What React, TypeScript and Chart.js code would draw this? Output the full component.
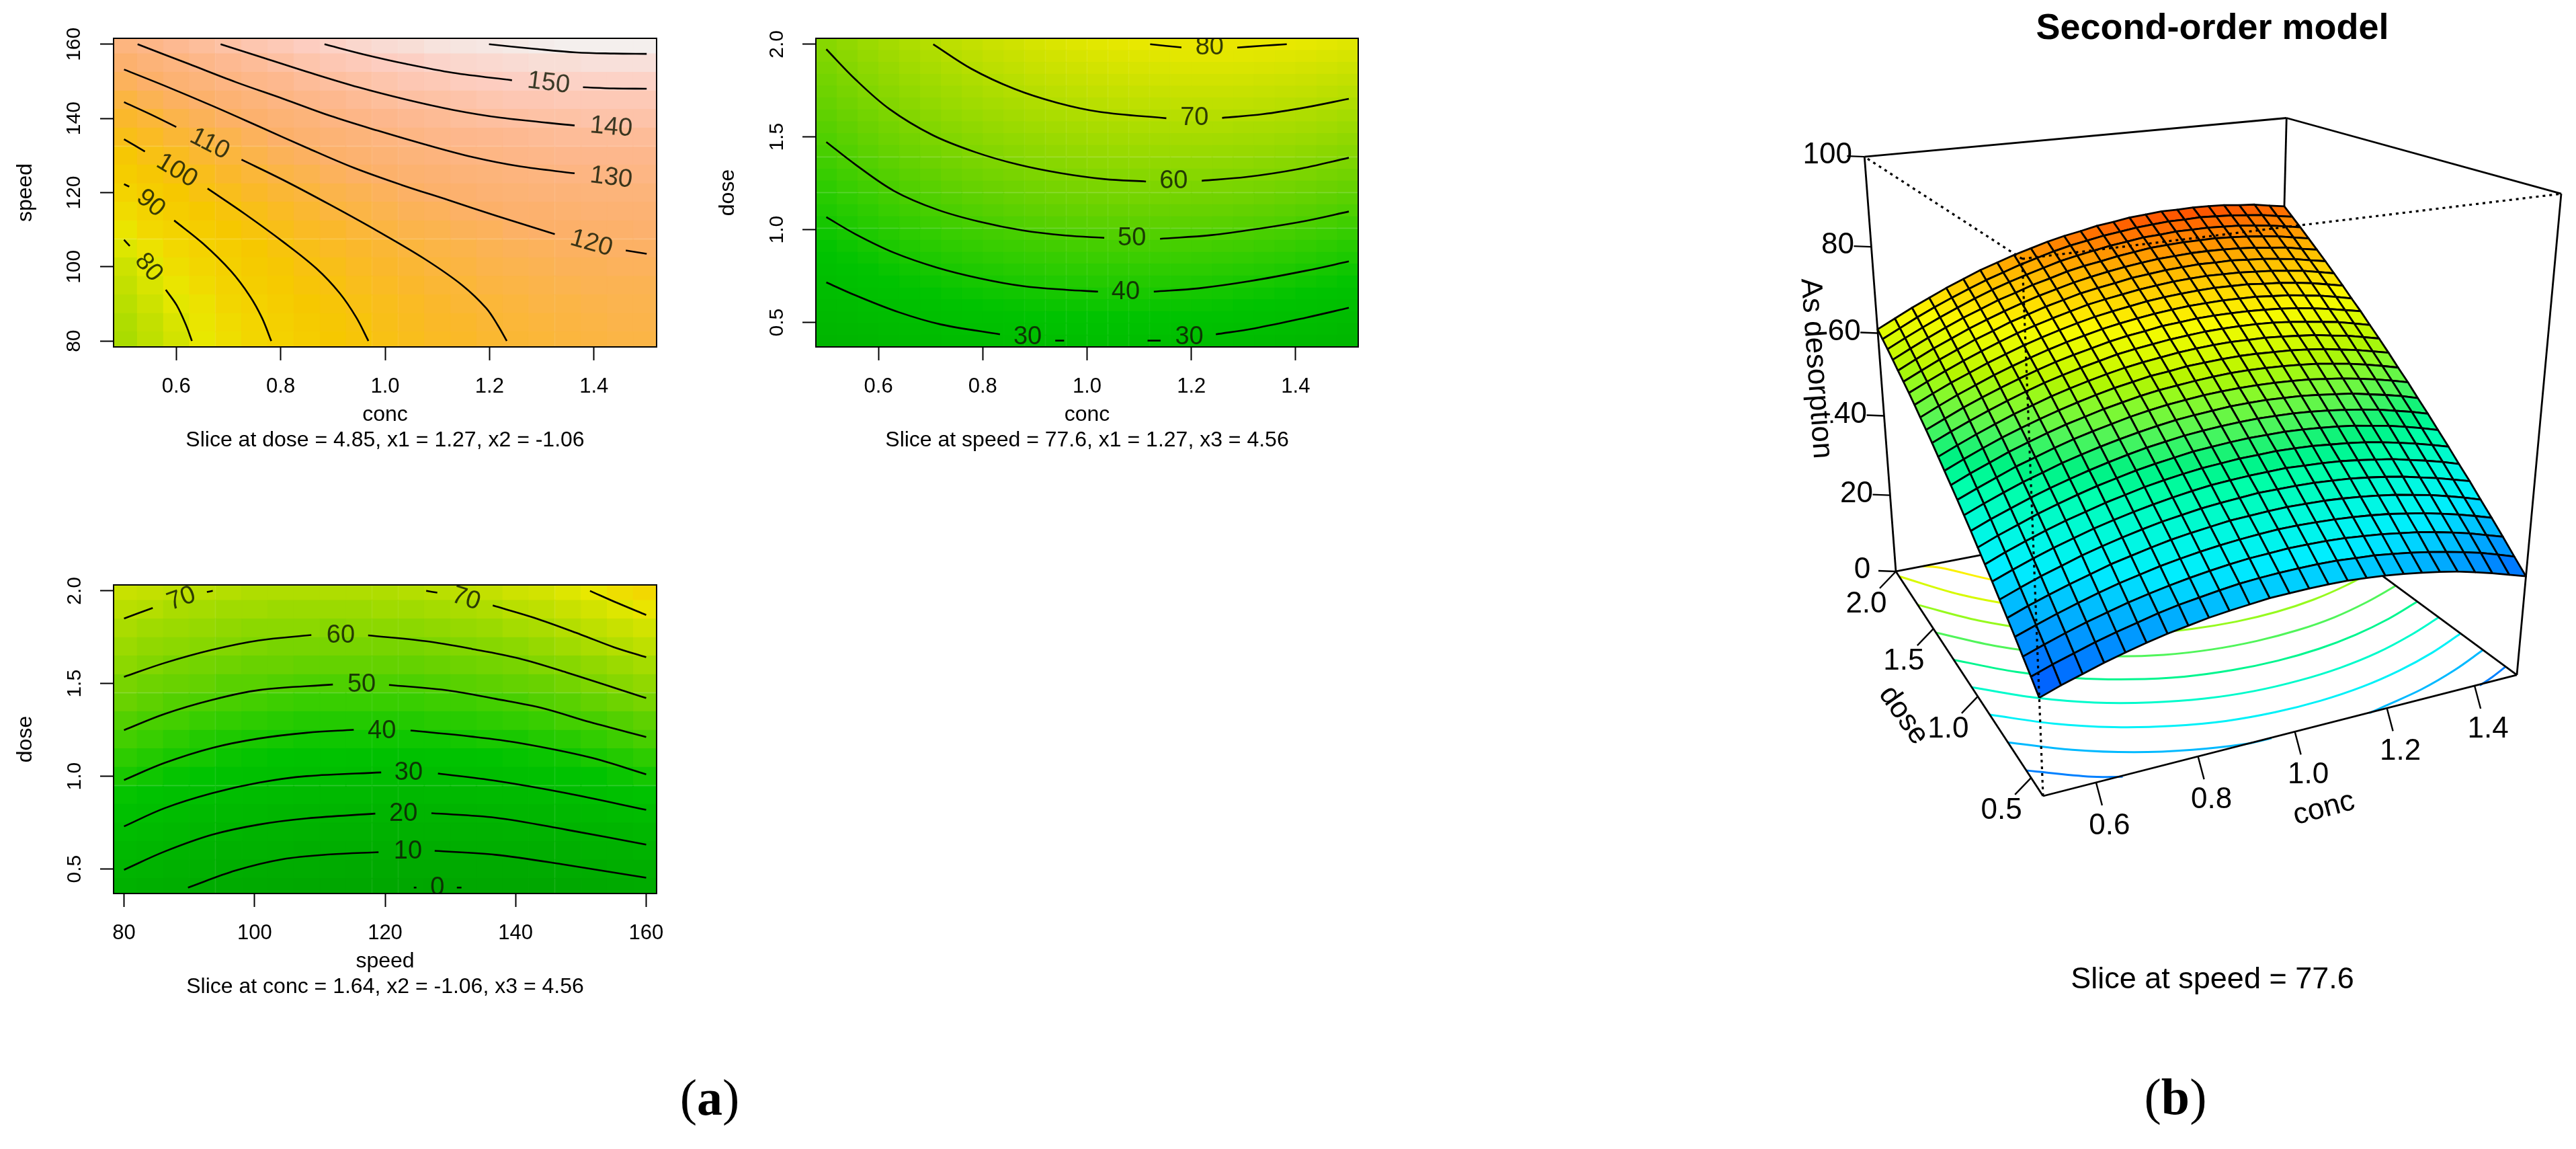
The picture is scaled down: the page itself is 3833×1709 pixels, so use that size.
import React, { useEffect, useRef } from 'react';
import { Chart, registerables } from 'chart.js';
Chart.register(...registerables);
Chart.defaults.font.family = '"Liberation Sans", Helvetica, Arial, sans-serif';
Chart.defaults.color = '#000';

// ---------- grid axes ----------
const concGrid26 = [0.5,0.54,0.58,0.62,0.66,0.7,0.74,0.78,0.82,0.86,0.9,0.94,0.98,1.02,1.06,1.1,1.14,1.18,1.22,1.26,1.3,1.34,1.38,1.42,1.46,1.5];
const doseGrid26 = [0.4,0.464,0.528,0.592,0.656,0.72,0.784,0.848,0.912,0.976,1.04,1.104,1.168,1.232,1.296,1.36,1.424,1.488,1.552,1.616,1.68,1.744,1.808,1.872,1.936,2.0];
const concGrid21 = [0.5,0.55,0.6,0.65,0.7,0.75,0.8,0.85,0.9,0.95,1.0,1.05,1.1,1.15,1.2,1.25,1.3,1.35,1.4,1.45,1.5];
const speedGrid17 = [80,85,90,95,100,105,110,115,120,125,130,135,140,145,150,155,160];
const speedGrid21 = [80,84,88,92,96,100,104,108,112,116,120,124,128,132,136,140,144,148,152,156,160];
const doseGrid17 = [0.4,0.5,0.6,0.7,0.8,0.9,1.0,1.1,1.2,1.3,1.4,1.5,1.6,1.7,1.8,1.9,2.0];

// ---------- As desorption, conc x dose, speed = 77.6 (rows: dose, columns: conc) ----------
const zConcDose = [
[20.5,22.0,23.3,24.6,25.7,26.7,27.6,28.3,29.0,29.5,29.9,30.3,30.4,30.5,30.5,30.4,30.1,29.7,29.2,28.6,27.9,27.1,26.1,25.0,23.8,22.6],
[22.6,24.1,25.4,26.7,27.8,28.8,29.8,30.6,31.2,31.8,32.3,32.6,32.8,32.9,32.9,32.8,32.5,32.2,31.7,31.1,30.4,29.6,28.7,27.7,26.5,25.2],
[24.6,26.1,27.5,28.8,29.9,31.0,31.9,32.7,33.4,34.0,34.5,34.9,35.1,35.3,35.3,35.2,35.0,34.6,34.2,33.6,33.0,32.2,31.3,30.3,29.1,27.9],
[26.6,28.1,29.5,30.8,32.0,33.1,34.0,34.9,35.6,36.2,36.7,37.1,37.4,37.6,37.6,37.5,37.3,37.0,36.6,36.1,35.4,34.7,33.8,32.8,31.7,30.5],
[28.5,30.1,31.5,32.8,34.0,35.2,36.1,37.0,37.8,38.4,38.9,39.4,39.6,39.8,39.9,39.8,39.7,39.4,39.0,38.5,37.9,37.1,36.3,35.3,34.2,33.0],
[30.4,32.0,33.5,34.8,36.1,37.2,38.2,39.1,39.9,40.5,41.1,41.5,41.8,42.1,42.1,42.1,42.0,41.7,41.4,40.9,40.3,39.6,38.7,37.8,36.7,35.6],
[32.3,33.9,35.4,36.8,38.0,39.2,40.2,41.1,41.9,42.6,43.2,43.7,44.0,44.2,44.3,44.4,44.2,44.0,43.7,43.2,42.6,42.0,41.1,40.2,39.2,38.0],
[34.1,35.8,37.3,38.7,40.0,41.1,42.2,43.1,44.0,44.7,45.3,45.8,46.1,46.4,46.5,46.6,46.5,46.3,45.9,45.5,45.0,44.3,43.5,42.6,41.6,40.5],
[35.9,37.6,39.1,40.6,41.9,43.1,44.2,45.1,46.0,46.7,47.3,47.9,48.2,48.5,48.7,48.7,48.7,48.5,48.2,47.8,47.3,46.6,45.9,45.0,44.0,42.9],
[37.7,39.4,40.9,42.4,43.7,44.9,46.0,47.0,47.9,48.7,49.3,49.9,50.3,50.6,50.8,50.9,50.8,50.7,50.4,50.0,49.5,48.9,48.2,47.3,46.4,45.3],
[39.4,41.1,42.7,44.2,45.5,46.8,47.9,48.9,49.8,50.6,51.3,51.9,52.3,52.6,52.9,53.0,53.0,52.8,52.6,52.2,51.7,51.2,50.4,49.6,48.7,47.6],
[41.1,42.8,44.4,46.0,47.3,48.6,49.8,50.8,51.7,52.6,53.3,53.9,54.3,54.7,54.9,55.0,55.0,54.9,54.7,54.4,53.9,53.4,52.7,51.9,51.0,50.0],
[42.7,44.5,46.1,47.7,49.1,50.4,51.6,52.6,53.6,54.4,55.2,55.8,56.2,56.6,56.9,57.1,57.1,57.0,56.8,56.5,56.1,55.5,54.9,54.1,53.2,52.2],
[44.3,46.1,47.8,49.4,50.8,52.1,53.3,54.4,55.4,56.3,57.0,57.7,58.1,58.6,58.8,59.0,59.1,59.0,58.8,58.6,58.2,57.7,57.0,56.3,55.4,54.5],
[45.9,47.7,49.4,51.0,52.5,53.8,55.1,56.2,57.2,58.1,58.9,59.5,60.0,60.5,60.8,61.0,61.1,61.0,60.9,60.6,60.2,59.8,59.1,58.5,57.6,56.7],
[47.5,49.3,51.0,52.6,54.1,55.5,56.8,57.9,58.9,59.8,60.7,61.3,61.8,62.3,62.6,62.9,63.0,63.0,62.9,62.7,62.3,61.8,61.2,60.6,59.7,58.8],
[49.0,50.8,52.6,54.2,55.7,57.1,58.4,59.6,60.6,61.5,62.4,63.1,63.6,64.2,64.5,64.8,64.9,64.9,64.8,64.6,64.3,63.9,63.3,62.6,61.8,61.0],
[50.4,52.3,54.1,55.7,57.3,58.7,60.0,61.2,62.3,63.2,64.1,64.8,65.4,65.9,66.3,66.6,66.7,66.8,66.7,66.6,66.2,65.9,65.3,64.7,63.9,63.0],
[51.9,53.8,55.6,57.2,58.8,60.2,61.6,62.8,63.9,64.9,65.8,66.5,67.1,67.7,68.1,68.4,68.6,68.7,68.6,68.5,68.1,67.8,67.3,66.7,65.9,65.1],
[53.3,55.2,57.0,58.7,60.3,61.8,63.2,64.4,65.5,66.5,67.5,68.2,68.8,69.4,69.8,70.2,70.4,70.5,70.4,70.3,70.0,69.7,69.2,68.7,67.9,67.1],
[54.6,56.5,58.4,60.1,61.8,63.2,64.7,65.9,67.1,68.1,69.1,69.8,70.4,71.1,71.5,71.9,72.1,72.3,72.2,72.2,71.9,71.6,71.1,70.6,69.8,69.1],
[55.9,57.9,59.8,61.5,63.2,64.7,66.1,67.4,68.6,69.6,70.6,71.4,72.1,72.7,73.2,73.6,73.8,74.0,74.0,73.9,73.7,73.4,72.9,72.5,71.7,71.0],
[57.2,59.2,61.1,62.9,64.6,66.1,67.6,68.8,70.1,71.1,72.2,73.0,73.6,74.3,74.8,75.3,75.5,75.7,75.7,75.7,75.5,75.2,74.8,74.3,73.6,72.9],
[58.5,60.5,62.4,64.2,65.9,67.5,69.0,70.3,71.5,72.6,73.7,74.5,75.2,75.9,76.4,76.9,77.1,77.4,77.4,77.4,77.2,77.0,76.6,76.1,75.5,74.8],
[59.7,61.7,63.7,65.5,67.2,68.8,70.3,71.6,72.9,74.0,75.1,76.0,76.7,77.4,77.9,78.4,78.7,79.0,79.0,79.1,78.9,78.7,78.3,77.9,77.2,76.6],
[60.9,62.9,64.9,66.7,68.5,70.1,71.7,73.0,74.3,75.4,76.5,77.4,78.1,78.9,79.4,80.0,80.3,80.6,80.6,80.7,80.6,80.4,80.0,79.7,79.0,78.4],
];

// ---------- conc x speed, dose = 4.85 (rows: speed, columns: conc) ----------
const zConcSpeed = [
[68,72,76,80,83,86,89,92,95,97,100,102,104,105,107,108,109,110,111,112,112],
[69,73,77,81,84,87,90,93,96,98,101,103,105,106,108,109,110,111,112,113,113],
[71,75,79,82,86,89,92,95,97,100,102,104,106,108,109,110,112,112,113,114,114],
[73,77,81,84,88,91,94,97,99,102,104,106,108,109,111,112,113,114,115,115,115],
[75,79,83,86,90,93,96,99,101,104,106,108,110,111,113,114,115,116,116,117,117],
[78,82,85,89,92,95,98,101,104,106,108,110,112,113,115,116,117,118,118,119,119],
[81,85,88,92,95,98,101,104,106,109,111,113,114,116,117,119,120,120,121,121,122],
[84,88,92,95,98,101,104,107,110,112,114,116,117,119,120,122,122,123,124,124,124],
[88,92,95,99,102,105,108,110,113,115,117,119,121,122,124,125,126,126,127,127,127],
[92,96,99,102,106,109,112,114,117,119,121,123,124,126,127,128,129,130,130,131,131],
[96,100,103,107,110,113,116,118,121,123,125,127,128,130,131,132,133,134,134,134,134],
[101,104,108,111,114,117,120,123,125,127,129,131,133,134,135,136,137,138,138,138,138],
[106,109,113,116,119,122,125,127,130,132,134,136,137,139,140,141,142,142,143,143,143],
[111,115,118,121,124,127,130,133,135,137,139,141,142,143,145,146,146,147,147,147,147],
[117,120,124,127,130,133,135,138,140,142,144,146,147,149,150,151,151,152,152,152,152],
[122,126,129,133,136,138,141,144,146,148,150,151,153,154,155,156,157,157,158,158,158],
[129,132,136,139,142,145,147,150,152,154,156,157,159,160,161,162,163,164,164,164,164],
];

// ---------- speed x dose, conc = 1.64 (rows: dose, columns: speed) ----------
const zSpeedDose = [
[16,13,11,9,7,6,4,3,2,1,1,1,0,1,1,1,2,3,4,5,7],
[20,18,16,14,12,10,9,8,7,6,6,6,5,6,6,6,7,8,9,11,12],
[24,22,20,18,16,15,14,12,12,11,11,10,10,11,11,12,12,13,15,16,18],
[28,26,24,22,21,19,18,17,16,16,15,15,15,15,16,17,17,19,20,21,23],
[32,30,28,26,25,24,22,21,21,20,20,20,20,20,21,22,22,24,25,27,28],
[36,34,32,31,29,28,27,26,25,25,24,24,25,25,26,26,27,29,30,32,34],
[40,38,36,35,33,32,31,30,30,29,29,29,29,30,30,31,32,34,35,37,39],
[44,42,40,39,37,36,35,34,34,33,33,33,34,34,35,36,37,38,40,42,44],
[48,46,44,42,41,40,39,38,38,38,38,38,38,39,40,40,42,43,45,47,49],
[51,49,48,46,45,44,43,42,42,42,42,42,43,43,44,45,46,48,49,51,53],
[55,53,51,50,49,48,47,46,46,46,46,46,47,47,48,49,51,52,54,56,58],
[58,56,55,54,52,52,51,50,50,50,50,50,51,52,53,54,55,57,59,61,63],
[62,60,58,57,56,55,55,54,54,54,54,54,55,56,57,58,60,61,63,65,67],
[65,63,62,61,60,59,58,58,58,58,58,58,59,60,61,62,64,66,68,70,72],
[68,66,65,64,63,62,62,62,61,62,62,62,63,64,65,67,68,70,72,74,76],
[71,70,68,67,66,66,65,65,65,65,66,66,67,68,69,71,72,74,76,78,81],
[74,73,72,71,70,69,69,69,69,69,69,70,71,72,73,75,76,78,80,83,85],
];

// ---------- contour lines ----------
const contoursConcSpeed = [
[[1.199,160],[1.284,158.8],[1.366,157.8],[1.438,157.5],[1.501,157.4]],
[[0.884,160],[0.958,157.3],[1.04,154.7],[1.13,152.3],[1.243,150.3]],
[[1.379,148.4],[1.438,148.1],[1.501,148]],
[[0.685,160],[0.768,156.3],[0.859,152.2],[0.949,148.4],[1.04,145.1],[1.13,142.3],[1.221,140.2],[1.363,138.1]],
[[0.526,160],[0.624,154.7],[0.714,149.8],[0.805,145.3],[0.895,140.7],[0.986,136.7],[1.076,133],[1.167,129.6],[1.257,127.1],[1.363,125.2]],
[[0.5,153.2],[0.578,148.8],[0.669,143.4],[0.759,137.8],[0.85,132.1],[0.94,126.7],[1.031,122.1],[1.121,118],[1.212,113.8],[1.325,108.8]],
[[1.461,104.4],[1.501,103.5]],
[[0.5,144.4],[0.551,141.1],[0.6,137.7]],
[[0.725,128.9],[0.805,123.4],[0.895,116.7],[0.986,109.6],[1.076,102.1],[1.148,95],[1.194,88.8],[1.216,84.2],[1.233,80]],
[[0.5,134.4],[0.54,131.1]],
[[0.66,121.1],[0.732,114.2],[0.805,106.7],[0.868,99.6],[0.913,92.9],[0.945,86.3],[0.968,80]],
[[0.5,122.3],[0.51,121.6]],
[[0.596,112.5],[0.651,106.3],[0.705,98.8],[0.741,92.1],[0.764,86.3],[0.782,80]],
[[0.5,107.3],[0.511,105.6]],
[[0.58,93.8],[0.601,89.6],[0.619,84.2],[0.63,80]],
];
const labelsConcSpeed = [
['150',1.313,149.5,7],['140',1.433,137.6,5],['130',1.433,124,7],['120',1.395,106.3,16],
['110',0.664,133.1,27],['100',0.601,125.9,31],['90',0.551,117.1,40],['80',0.547,99.8,50],
];
const contoursConcDose = [
[[1.121,2],[1.181,1.983]],
[[1.288,1.982],[1.337,1.992],[1.383,2]],
[[0.705,2],[0.778,1.868],[0.86,1.76],[0.942,1.685],[1.025,1.635],[1.152,1.601]],
[[1.259,1.603],[1.337,1.623],[1.42,1.66],[1.502,1.706]],
[[0.5,1.973],[0.556,1.81],[0.621,1.651],[0.704,1.51],[0.786,1.418],[0.868,1.351],[0.951,1.304],[1.033,1.273],[1.113,1.26]],
[[1.22,1.264],[1.305,1.284],[1.403,1.326],[1.502,1.388]],
[[0.5,1.473],[0.556,1.351],[0.63,1.209],[0.712,1.109],[0.794,1.043],[0.877,0.996],[0.959,0.969],[1.033,0.956]],
[[1.14,0.951],[1.239,0.971],[1.337,1.009],[1.42,1.048],[1.502,1.098]],
[[0.5,1.068],[0.556,0.976],[0.63,0.876],[0.712,0.796],[0.794,0.738],[0.877,0.696],[0.959,0.676],[1.021,0.666]],
[[1.128,0.666],[1.214,0.684],[1.313,0.723],[1.42,0.779],[1.502,0.829]],
[[0.5,0.716],[0.556,0.646],[0.638,0.556],[0.72,0.489],[0.833,0.436]],
[[0.939,0.402],[0.956,0.402]],
[[1.116,0.402],[1.141,0.402]],
[[1.247,0.436],[1.321,0.468],[1.42,0.526],[1.502,0.579]],
];
const labelsConcDose = [
['80',1.235,1.982,0],['70',1.206,1.601,0],['60',1.166,1.263,0],['50',1.086,0.954,0],['40',1.074,0.664,0],['30',0.886,0.42,0],['30',1.196,0.42,0],
];
const contoursSpeedDose = [
[[151.4,2],[155.7,1.933],[160,1.87]],
[[80,1.851],[84.4,1.908]],
[[92.7,1.994],[93.6,2]],
[[126.3,2],[128,1.99]],
[[136.5,1.921],[142.8,1.855],[150,1.764],[155,1.697],[160,1.642]],
[[80,1.536],[86.2,1.611],[93.5,1.682],[100.7,1.733],[108.7,1.762]],
[[117.4,1.76],[126.1,1.729],[133.3,1.687],[140.5,1.636],[147.8,1.56],[160,1.422]],
[[80,1.249],[86.2,1.336],[93.5,1.412],[100.7,1.465],[112,1.495]],
[[120.6,1.493],[129.7,1.463],[136.9,1.418],[144.2,1.367],[151.4,1.292],[160,1.212]],
[[80,0.98],[86.2,1.072],[93.5,1.153],[100.7,1.204],[108,1.235],[115.2,1.251]],
[[123.9,1.247],[133.3,1.214],[140.5,1.18],[151.4,1.102],[160,1.011]],
[[80,0.73],[86.2,0.828],[93.5,0.909],[100.7,0.966],[108,1.001],[119.4,1.021]],
[[128.1,1.015],[136.9,0.976],[147.8,0.909],[160,0.819]],
[[80,0.496],[86.2,0.594],[93.5,0.685],[100.7,0.74],[108,0.773],[118.5,0.799]],
[[127.1,0.801],[136.9,0.777],[147.8,0.712],[160,0.632]],
[[89.8,0.4],[97.1,0.492],[104.3,0.553],[111.6,0.579],[119,0.591]],
[[127.6,0.598],[136.9,0.577],[147.8,0.522],[160,0.453]],
[[124.4,0.4],[124.8,0.4]],
[[131,0.4],[131.7,0.4]],
];
const labelsSpeedDose = [
['70',88.8,1.957,-20],['70',132.4,1.957,18],['60',113.2,1.76,0],['50',116.4,1.493,0],['40',119.5,1.245,0],['30',123.6,1.017,0],['20',122.8,0.797,0],['10',123.5,0.594,0],['0',128,0.4,0],
];

// ---------- base-plane contours of the perspective plot: [level, [conc, dose]...] ----------
const baseContours: any[] = [
[25,[[0.5,0.541],[0.6,0.432],[0.65,0.395]]],
[25,[[1.41,0.395],[1.45,0.421],[1.5,0.459]]],
[30,[[0.5,0.706],[0.6,0.587],[0.7,0.499],[0.8,0.439],[0.9,0.401],[0.95,0.397]]],
[30,[[1.16,0.398],[1.2,0.413],[1.3,0.452],[1.4,0.509],[1.5,0.581]]],
[35,[[0.5,0.879],[0.6,0.748],[0.7,0.651],[0.8,0.584],[0.9,0.541],[1.0,0.523],[1.1,0.524],[1.2,0.543],[1.3,0.581],[1.4,0.636],[1.5,0.707]]],
[40,[[0.5,1.063],[0.6,0.918],[0.7,0.81],[0.8,0.736],[0.9,0.687],[1.0,0.663],[1.1,0.661],[1.2,0.677],[1.3,0.712],[1.4,0.767],[1.5,0.836]]],
[45,[[0.5,1.259],[0.6,1.097],[0.7,0.978],[0.8,0.894],[0.9,0.838],[1.0,0.81],[1.1,0.803],[1.2,0.816],[1.3,0.849],[1.4,0.9],[1.5,0.968]]],
[50,[[0.5,1.469],[0.6,1.287],[0.7,1.154],[0.8,1.06],[0.9,0.996],[1.0,0.962],[1.1,0.951],[1.2,0.96],[1.3,0.989],[1.4,1.04],[1.5,1.106]]],
[55,[[0.5,1.699],[0.6,1.491],[0.7,1.341],[0.8,1.236],[0.9,1.161],[1.0,1.121],[1.1,1.104],[1.2,1.109],[1.3,1.136],[1.4,1.184],[1.5,1.248]]],
[60,[[0.5,1.954],[0.6,1.713],[0.7,1.542],[0.8,1.421],[0.9,1.337],[1.0,1.288],[1.1,1.266],[1.2,1.264],[1.3,1.288],[1.4,1.333],[1.5,1.396]]],
[65,[[0.565,2.0],[0.6,1.958],[0.7,1.759],[0.8,1.619],[0.9,1.521],[1.0,1.463],[1.1,1.433],[1.2,1.428],[1.3,1.447],[1.4,1.49],[1.5,1.55]]],
];

const conc3dTicks = [0.6,0.8,1.0,1.2,1.4];
const dose3dTicks = [0.5,1.0,1.5,2.0];
const z3dTicks = [0,20,40,60,80,100];

// ---------- colour ramps ----------
const heatStops = [[0,0,166,0],[20,0,180,0],[35,0,195,0],[45,50,205,0],[55,105,210,0],[65,155,218,0],[75,205,226,0],[80,232,232,0],[85,242,216,0],[95,246,200,0],[105,250,185,40],[120,252,176,105],[135,253,184,142],[150,253,205,192],[165,243,241,240]];
const rainbowStops = [[20,0,85,255],[23,0,105,255],[27,0,150,255],[30,0,185,255],[34,0,238,255],[38,0,248,225],[43,0,255,170],[46,0,242,130],[50,80,245,90],[55,150,250,30],[57,180,245,0],[60,215,250,0],[64,250,250,0],[68,255,215,0],[72,255,180,0],[76,255,135,0],[80,255,85,0]];
function ramp(stops: number[][], z: number) {
  if (z <= stops[0][0]) return `rgb(${stops[0].slice(1).join(',')})`;
  for (let i = 1; i < stops.length; i++) {
    if (z <= stops[i][0]) {
      const a = stops[i - 1], b = stops[i], f = (z - a[0]) / (b[0] - a[0]);
      return `rgb(${[1, 2, 3].map((k) => Math.round(a[k] + f * (b[k] - a[k]))).join(',')})`;
    }
  }
  return `rgb(${stops[stops.length - 1].slice(1).join(',')})`;
}

// ---------- panels ----------
const AXW = 150, AXH = 158, PADT = 20, PADR = 20;
const noPad = (ax: any) => { ax.paddingLeft = 0; ax.paddingRight = 0; ax.paddingTop = 0; ax.paddingBottom = 0; };
function panelConfig(p: any) {
  const { xs, ys, zs, contours, labels, xTicks, yTicks, xRange, yRange, xName, yName, caption, xFmt, yPad } = p;
  const dx = xs[1] - xs[0], dy = ys[1] - ys[0];
  const bars = zs.map((row: number[], j: number) => ({
    type: 'bar', order: 5,
    data: row.map((_: number, i: number) => ({ x: xs[i], y: [ys[j] - dy / 2, ys[j] + dy / 2] })),
    backgroundColor: row.map((z: number) => ramp(heatStops, z)),
    borderColor: row.map((z: number) => ramp(heatStops, z)),
    borderWidth: 1, borderSkipped: false, grouped: false, barPercentage: 1, categoryPercentage: 1,
  }));
  const lines = contours.map((seg: number[][]) => ({
    type: 'line', order: 1, data: seg.map(([x, y]) => ({ x, y })),
    borderColor: '#000', borderWidth: 2.6, pointRadius: 0, tension: 0.35, fill: false,
  }));
  const deco = {
    id: 'deco',
    afterDraw(c: any) {
      const { ctx, chartArea: a, scales } = c;
      ctx.save();
      ctx.beginPath(); ctx.rect(a.left, a.top, a.width, a.height); ctx.clip();
      ctx.font = '38px "Liberation Sans"'; ctx.fillStyle = 'rgba(15,25,5,0.82)'; ctx.textAlign = 'center'; ctx.textBaseline = 'middle';
      labels.forEach(([t, x, y, r]: any) => {
        ctx.save();
        ctx.translate(scales.x.getPixelForValue(x), scales.y.getPixelForValue(y));
        ctx.rotate((r * Math.PI) / 180);
        ctx.fillText(t, 0, 0);
        ctx.restore();
      });
      ctx.restore();
      ctx.save(); ctx.strokeStyle = '#000'; ctx.lineWidth = 2;
      ctx.strokeRect(a.left, a.top, a.width, a.height); ctx.restore();
    },
  };
  return {
    type: 'bar',
    data: { datasets: [...lines, ...bars] },
    plugins: [deco],
    options: {
      animation: false, responsive: false, devicePixelRatio: 1, events: [],
      layout: { padding: { top: PADT, right: PADR, left: 0, bottom: 0 } },
      plugins: { legend: { display: false }, tooltip: { enabled: false }, title: { display: false } },
      scales: {
        x: {
          type: 'linear', offset: false, min: xRange[0], max: xRange[1],
          afterBuildTicks: (ax: any) => { ax.ticks = xTicks.map((value: number) => ({ value })); },
          afterFit: (ax: any) => { ax.height = AXH; noPad(ax); },
          grid: { drawOnChartArea: false, offset: false, tickLength: 20, tickWidth: 2, tickColor: '#000', color: '#000' },
          border: { color: '#000', width: 2 },
          ticks: { autoSkip: false, maxRotation: 0, padding: 21, font: { size: 31 }, color: '#000', callback: (v: number) => v.toFixed(xFmt) },
          title: { display: true, text: [xName, caption], color: '#000', font: { size: 32, lineHeight: 38 / 32 }, padding: 0 },
        },
        y: {
          type: 'linear', min: yRange[0], max: yRange[1],
          afterBuildTicks: (ax: any) => { ax.ticks = yTicks.map((value: number) => ({ value })); },
          afterFit: (ax: any) => { ax.width = AXW; noPad(ax); },
          grid: { drawOnChartArea: false, tickLength: 20, tickWidth: 2, tickColor: '#000', color: '#000' },
          border: { color: '#000', width: 2 },
          ticks: { autoSkip: false, minRotation: 90, maxRotation: 90, crossAlign: 'center', padding: yPad, font: { size: 30 }, color: '#000', callback: (v: number) => v.toFixed(p.yFmt) },
          title: { display: true, text: yName, color: '#000', font: { size: 32, lineHeight: 38 / 32 }, padding: 0 },
        },
      },
    },
  };
}

const panels = [
  { L: 169, T: 57, W: 808, H: 459, xs: concGrid21, ys: speedGrid17, zs: zConcSpeed, contours: contoursConcSpeed, labels: labelsConcSpeed,
    xTicks: [0.6,0.8,1.0,1.2,1.4], yTicks: [80,100,120,140,160], xRange: [0.48,1.52], yRange: [78.4,161.6], xFmt: 1, yFmt: 0, yPad: 13,
    xName: 'conc', yName: 'speed', caption: 'Slice at dose = 4.85, x1 = 1.27, x2 = -1.06' },
  { L: 1214, T: 57, W: 807, H: 459, xs: concGrid26, ys: doseGrid26, zs: zConcDose, contours: contoursConcDose, labels: labelsConcDose,
    xTicks: [0.6,0.8,1.0,1.2,1.4], yTicks: [0.5,1.0,1.5,2.0], xRange: [0.48,1.52], yRange: [0.368,2.032], xFmt: 1, yFmt: 1, yPad: 16,
    xName: 'conc', yName: 'dose', caption: 'Slice at speed = 77.6, x1 = 1.27, x3 = 4.56' },
  { L: 169, T: 870, W: 808, H: 459, xs: speedGrid21, ys: doseGrid17, zs: zSpeedDose, contours: contoursSpeedDose, labels: labelsSpeedDose,
    xTicks: [80,100,120,140,160], yTicks: [0.5,1.0,1.5,2.0], xRange: [78.4,161.6], yRange: [0.368,2.032], xFmt: 0, yFmt: 1, yPad: 16,
    xName: 'speed', yName: 'dose', caption: 'Slice at conc = 1.64, x2 = -1.06, x3 = 4.56' },
];

// ---------- perspective view of the box ----------
function project(c: number, d: number, z: number) {
  const u = c - 0.5, v = (d - 0.4) / 1.6, w = z / 100;
  const D = 0.1341 * u + 0.3278 * v - 0.132 * w + 1;
  return { x: (1207.2 * u + 705.7 * v - 428.2 * w + 3040) / D, y: (-45.4 * u - 55.4 * v - 849.8 * w + 1184) / D };
}
const P = (pts: number[][]) => pts.map(([c, d, z]) => project(c, d, z));
const shift = (p: any, dx: number, dy: number) => ({ x: p.x + dx, y: p.y + dy });
const C0 = 0.5, C1 = 1.5, D0 = 0.4, D1 = 2.0, Z0 = 0, Z1 = 100;

function perspConfig() {
  const line = (data: any[], opts: any = {}) => ({
    showLine: true, data, borderColor: '#000', borderWidth: 2.4, pointRadius: 0, fill: false, tension: 0, ...opts,
  });
  const dotted = [
    [[C0,D0,Z0],[C0,D0,Z1]], [[C0,D0,Z1],[C0,D1,Z1]], [[C0,D0,Z1],[C1,D0,Z1]],
  ].map((s) => line(P(s), { borderDash: [4, 6], borderWidth: 3.2 }));
  const ticks = [
    ...conc3dTicks.map((c) => { const a = project(c, D0, Z0); return line([a, shift(a, 9, 34)]); }),
    ...dose3dTicks.map((d) => { const a = project(C0, d, Z0); return line([a, shift(a, -24, 25)]); }),
    ...z3dTicks.map((z) => { const a = project(C0, D1, z); return line([a, shift(a, -26, -1)]); }),
  ];
  const surface: any[] = [];
  for (let j = 0; j < doseGrid26.length - 1; j++) {
    for (let i = 0; i < concGrid26.length - 1; i++) {
      const m = (zConcDose[j][i] + zConcDose[j][i + 1] + zConcDose[j + 1][i] + zConcDose[j + 1][i + 1]) / 4;
      const corners = [[i,j],[i+1,j],[i+1,j+1],[i,j+1],[i,j]].map(([a, b]) => project(concGrid26[a], doseGrid26[b], zConcDose[b][a]));
      surface.push(line(corners, { fill: 'shape', backgroundColor: ramp(rainbowStops, m), borderWidth: 2.8, borderJoinStyle: 'round' }));
    }
  }
  const box = [
    [[C0,D0,Z0],[C1,D0,Z0]], [[C0,D0,Z0],[C0,D1,Z0]], [[C0,D1,Z0],[C1,D1,Z0]], [[C1,D0,Z0],[C1,D1,Z0]],
    [[C0,D1,Z0],[C0,D1,Z1]], [[C1,D0,Z0],[C1,D0,Z1]], [[C1,D1,Z0],[C1,D1,Z1]],
    [[C0,D1,Z1],[C1,D1,Z1]], [[C1,D1,Z1],[C1,D0,Z1]],
  ].map((s) => line(P(s), { borderWidth: 2.8 }));
  const base = baseContours.map(([lvl, seg]) => line(seg.map(([c, d]: number[]) => project(c, d, 0)), { borderColor: ramp(rainbowStops, lvl), borderWidth: 3, tension: 0.35 }));

  const text = (ctx: any, s: string, x: number, y: number, font: string, rot = 0) => {
    ctx.save(); ctx.font = font; ctx.fillStyle = '#000'; ctx.textAlign = 'center'; ctx.textBaseline = 'middle';
    ctx.translate(x, y); ctx.rotate((rot * Math.PI) / 180); ctx.fillText(s, 0, 0); ctx.restore();
  };
  const deco = {
    id: 'deco3d',
    afterDraw(c: any) {
      const { ctx, scales } = c;
      const X = (v: number) => scales.x.getPixelForValue(v), Y = (v: number) => scales.y.getPixelForValue(v);
      const F = '44px "Liberation Sans"';
      conc3dTicks.forEach((v) => { const p = project(v, D0, Z0); text(ctx, v.toFixed(1), X(p.x + 20), Y(p.y + 65), F); });
      dose3dTicks.forEach((v) => { const p = project(C0, v, Z0); text(ctx, v.toFixed(1), X(p.x - 44), Y(p.y + 49), F); });
      z3dTicks.forEach((v) => { const p = project(C0, D1, v); text(ctx, String(v), X(p.x - (v === 100 ? 55 : 50)), Y(p.y - 2), F); });
      text(ctx, 'As desorption', X(2702), Y(548), F, 86);
      text(ctx, 'dose', X(2832), Y(1064), F, 55);
      text(ctx, 'conc', X(3458), Y(1203), F, -15);
      text(ctx, 'Second-order model', X(3292), Y(43), 'bold 54px "Liberation Sans"');
      text(ctx, 'Slice at speed = 77.6', X(3292), Y(1458), '45px "Liberation Sans"');
      [['(', ')', 'a', 1056, 1638], ['(', ')', 'b', 3237, 1637]].forEach(([o, cl, l, x, y]: any) => {
        ctx.save(); ctx.fillStyle = '#000'; ctx.textBaseline = 'middle'; ctx.textAlign = 'left';
        const reg = '76px "Liberation Serif"', bold = 'bold 76px "Liberation Serif"';
        ctx.font = reg; const w1 = ctx.measureText(o).width, w3 = ctx.measureText(cl).width;
        ctx.font = bold; const w2 = ctx.measureText(l).width;
        let px = X(x) - (w1 + w2 + w3) / 2;
        ctx.font = reg; ctx.fillText(o, px, Y(y)); px += w1;
        ctx.font = bold; ctx.fillText(l, px, Y(y)); px += w2;
        ctx.font = reg; ctx.fillText(cl, px, Y(y));
        ctx.restore();
      });
    },
  };
  return {
    type: 'scatter',
    data: { datasets: [...dotted, ...ticks, ...surface, ...box, ...base] },
    plugins: [deco],
    options: {
      animation: false, responsive: false, devicePixelRatio: 1, events: [],
      layout: { padding: 0 },
      plugins: { legend: { display: false }, tooltip: { enabled: false }, title: { display: false } },
      scales: {
        x: { type: 'linear', display: false, min: 0, max: 3833 },
        y: { type: 'linear', display: false, min: 0, max: 1709, reverse: true },
      },
    },
  };
}

function Panel({ p }: any) {
  const ref = useRef<HTMLCanvasElement>(null);
  useEffect(() => {
    const ch = new Chart(ref.current as any, panelConfig(p) as any);
    return () => ch.destroy();
  }, []);
  const w = p.W + AXW + PADR, h = p.H + AXH + PADT;
  return <canvas ref={ref} width={w} height={h} style={{ position: 'absolute', left: p.L - AXW, top: p.T - PADT, width: w, height: h }} />;
}
function Persp() {
  const ref = useRef<HTMLCanvasElement>(null);
  useEffect(() => {
    const ch = new Chart(ref.current as any, perspConfig() as any);
    return () => ch.destroy();
  }, []);
  return <canvas ref={ref} width={3833} height={1709} style={{ position: 'absolute', left: 0, top: 0, width: 3833, height: 1709, pointerEvents: 'none' }} />;
}

export default function App() {
  return (
    <div style={{ position: 'absolute', left: 0, top: 0, width: 3833, height: 1709, overflow: 'hidden', background: '#fff' }}>
      <Persp />
      {panels.map((p, i) => <Panel key={i} p={p} />)}
    </div>
  );
}
